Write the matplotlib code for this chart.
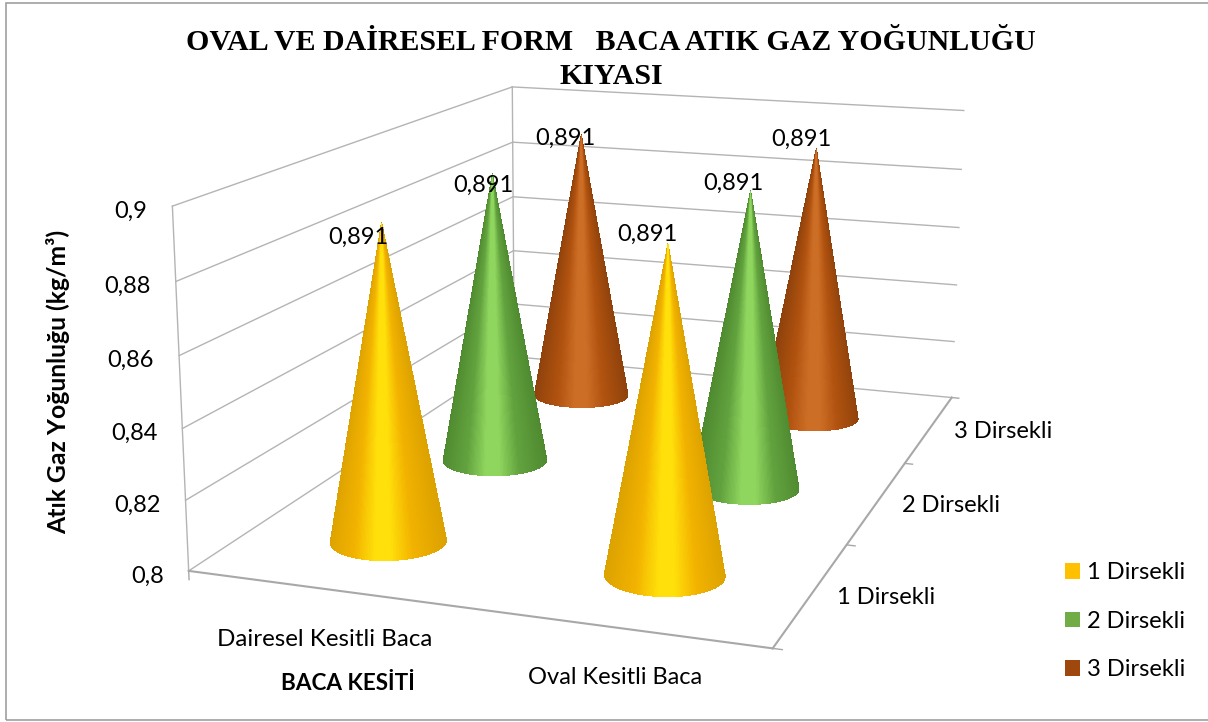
import numpy as np
import matplotlib
matplotlib.use("Agg")
import matplotlib.pyplot as plt
from matplotlib.patches import Rectangle, Patch
from mpl_toolkits.mplot3d import proj3d
from mpl_toolkits.mplot3d.art3d import Poly3DCollection

categories = ["Dairesel Kesitli Baca", "Oval Kesitli Baca"]
series_names = ["1 Dirsekli", "2 Dirsekli", "3 Dirsekli"]
values_1 = [0.891, 0.891]
values_2 = [0.891, 0.891]
values_3 = [0.891, 0.891]
z_ticks = [0.8, 0.82, 0.84, 0.86, 0.88, 0.9]
series_colors = ["#ffc000", "#70ad47", "#9e480e"]

W, H, SIDE = 1208, 722, 1000
ELEV, AZIM, ROLL, LOGF, BOX_X, BOX_Y, ZOOM, CX, CY = (13.8024, -71.1811, -0.2546, -0.8969,
                                                       1.6256, 2.3905, 0.9821, 618.3858, 315.6737)

fig = plt.figure(figsize=(W/100, H/100), dpi=100)
ax = fig.add_axes([(CX-SIDE/2)/W, (H-CY-SIDE/2)/H, SIDE/W, SIDE/H], projection="3d")
ax.set_xlim(0, 2); ax.set_ylim(0, 3); ax.set_zlim(0.8, 0.9)
ax.set_axis_off()
ax.view_init(elev=ELEV, azim=AZIM, roll=ROLL)
ax.set_proj_type("persp", focal_length=float(np.exp(LOGF)))
ax.set_box_aspect((BOX_X, BOX_Y, 1), zoom=ZOOM)
ax.patch.set_visible(False)
ax.computed_zorder = False
ax.set_autoscale_on(False)
ax.apply_aspect()
t = ax.transData.transform((0, 0))
ax.set_position([(CX-SIDE/2+(CX-t[0]))/W, (H-CY-SIDE/2+(H-CY-t[1]))/H, SIDE/W, SIDE/H])
ax.apply_aspect()

GRID = "#b4b4b4"
EDGE = "#a8a8a8"
for z in z_ticks:
    ax.plot([0, 0], [0, 3], [z, z], color=GRID, lw=1, zorder=1)
    ax.plot([0, 2], [3, 3], [z, z], color=GRID, lw=1, zorder=1)
ax.plot([0, 0], [0, 0], [0.8, 0.9], color=GRID, lw=1, zorder=1)
ax.plot([0, 0], [3, 3], [0.8, 0.9], color=GRID, lw=1, zorder=1)
ax.plot([0, 2], [0, 0], [0.8, 0.8], color=EDGE, lw=1.5, zorder=1)
ax.plot([2, 2], [0, 3], [0.8, 0.8], color=EDGE, lw=1.5, zorder=1)
for k in range(4):
    ax.plot([2, 2.03], [k, k], [0.8, 0.8], color=EDGE, lw=1, zorder=1)
ax.plot([0, 0], [0, 0], [0.8, 0.7975], color=EDGE, lw=1, zorder=1)

shades = [("#dca200", "#f2b200", "#ffe00a"),
          ("#4f8a30", "#62a23e", "#8fd65e"),
          ("#8f420c", "#b0520f", "#cc6e25")]
RX, RY = 0.2, 0.2
az = np.deg2rad(AZIM)


def cone(xc, yc, top, shade, zo):
    th = np.linspace(0, 2*np.pi, 241)
    cols = [matplotlib.colors.to_rgb(c) for c in shade]
    a0, b0 = th[:-1], th[1:]
    mid = 0.5*(a0 + b0)
    keep = np.cos(mid - az) > -0.25
    u = np.abs(np.sin(mid[keep] - az))
    rgb = np.array([np.interp(u, [0, 0.12, 0.5, 1], [cols[2][i], cols[2][i], cols[1][i], cols[0][i]])
                    for i in range(3)]).T
    verts = [[(xc+RX*np.cos(a), yc+RY*np.sin(a), 0.8), (xc+RX*np.cos(b), yc+RY*np.sin(b), 0.8), (xc, yc, top)]
             for a, b in zip(a0[keep], b0[keep])]
    pc = Poly3DCollection(verts, facecolors=rgb, edgecolors="none", linewidths=0, antialiaseds=False, zorder=zo)
    ax.add_collection3d(pc, autolim=False)


data = [values_1, values_2, values_3]
zo = 2
for j in [2, 1, 0]:
    for i in range(len(categories)):
        cone(i+0.5, j+0.5, data[j][i], shades[j], zo)
        zo += 1

M = ax.get_proj()


def anno(s, x, y, z, dx, dy, **kw):
    a, b, _ = proj3d.proj_transform(x, y, z, M)
    ax.annotate(s, xy=(float(a), float(b)), xycoords="data", xytext=(dx, dy), textcoords="offset pixels",
                family="Lato", zorder=20, **kw)


LBL = 17
offs = {(0, 0): (-23, -15), (0, 1): (-9, -12), (0, 2): (-16, -4),
        (1, 0): (-21, 9), (1, 1): (-17, 7), (1, 2): (-15, 9)}
for j in range(3):
    for i in range(2):
        dx, dy = offs[(i, j)]
        anno(f"{data[j][i]:.3f}".replace(".", ","), i+0.5, j+0.5, data[j][i], dx, dy,
             ha="center", va="center", fontsize=LBL, color="black")
for z in z_ticks:
    anno(f"{z:g}".replace(".", ","), 0, 0, z, -25, -5, ha="right", va="center", fontsize=LBL, color="black")


def px(x, y, s, **kw):
    fig.text(x/W, 1-y/H, s, family=kw.pop("family", "Lato"), **kw)


px(611, 42, "OVAL VE DAİRESEL FORM   BACA ATIK GAZ YOĞUNLUĞU", family="Liberation Serif",
   fontweight="bold", fontsize=21.5, ha="center", va="center")
px(611, 77, "KIYASI", family="Liberation Serif", fontweight="bold", fontsize=21.5, ha="center", va="center")
px(58, 382, "Atık Gaz Yoğunluğu (kg/m³)", fontweight="bold", fontsize=17.8, rotation=90, ha="center", va="center")
px(348, 684, "BACA KESİTİ", fontweight="bold", fontsize=16.2, ha="center", va="center")
px(325, 640, categories[0], fontsize=17.4, ha="center", va="center")
px(615, 677, categories[1], fontsize=LBL, ha="center", va="center")
px(837, 598, series_names[0], fontsize=LBL, ha="left", va="center")
px(902, 505, series_names[1], fontsize=LBL, ha="left", va="center")
px(954, 432, series_names[2], fontsize=LBL, ha="left", va="center")

handles = [Patch(facecolor=c, label=n) for c, n in zip(series_colors, series_names)]
fig.legend(handles=handles, loc="upper left", bbox_to_anchor=(1065/W, 1-562/H), frameon=False,
           prop={"family": "Lato", "size": LBL}, handlelength=0.64, handleheight=0.64,
           handletextpad=0.3, labelspacing=1.17, borderpad=0, borderaxespad=0)
fig.patches.append(Rectangle((6/W, 1-720/H), 1.1, 717/H, transform=fig.transFigure, fill=False,
                             edgecolor="#a0a0a0", lw=1.2, clip_on=False))
fig.savefig("out.png", dpi=100)
